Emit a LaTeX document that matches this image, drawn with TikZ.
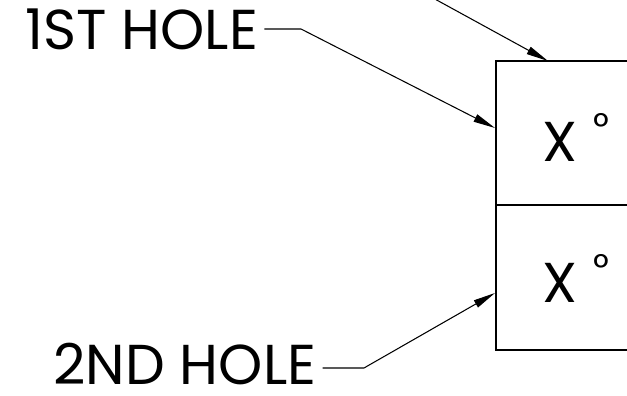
\documentclass[tikz,border=0pt]{standalone}
\usepackage{fontspec}
\setmainfont{Poppins}
\usetikzlibrary{arrows.meta}

\tikzset{
  leader/.style={line width=0.6pt, -{Triangle[length=4.4mm,width=1.6mm]}},
  callout/.style={inner sep=0pt, anchor=base west, font=\fontsize{32}{38}\selectfont},
}
\newcommand{\degsign}{\hspace{0.28em}\raisebox{0.38em}{\fontsize{22}{22}\selectfont °}}

\begin{document}
\begin{tikzpicture}
  \useasboundingbox (0,0) rectangle (12.54,7.92);
  % define the coordinates
  \coordinate (A) at (9.92, 6.70);
  \coordinate (B) at (9.92, 0.92);
  \coordinate (M) at (9.92, 3.82);
  \coordinate (T0) at (8.55, 8.02);
  \coordinate (T) at (10.96, 6.70);
  \coordinate (P1) at (9.90, 5.36);
  \coordinate (P2) at (9.90, 2.06);
  \coordinate (K1) at (6.02, 7.34);
  \coordinate (K2) at (7.28, 0.56);
  % draw the frame
  \draw[line width=0.8pt] (12.7,6.70) -- (A) -- (B) -- (12.7,0.92);
  \draw[line width=0.8pt] (M) -- (12.7,3.82);
  % the texts
  \node[callout] (hole1) at (0.50, 6.92) {1ST HOLE};
  \node[callout] (hole2) at (1.06, 0.22) {2ND HOLE};
  \node[callout] (ang1) at (10.84, 4.68) {X\degsign};
  \node[callout] (ang2) at (10.84, 1.86) {X\degsign};
  % draw the leaders
  \draw[leader] (T0) -- (T);
  \draw[leader] ([xshift=1.2mm]hole1.east |- K1) -- (K1) -- (P1);
  \draw[leader] ([xshift=1.2mm]hole2.east |- K2) -- (K2) -- (P2);
\end{tikzpicture}
\end{document}
